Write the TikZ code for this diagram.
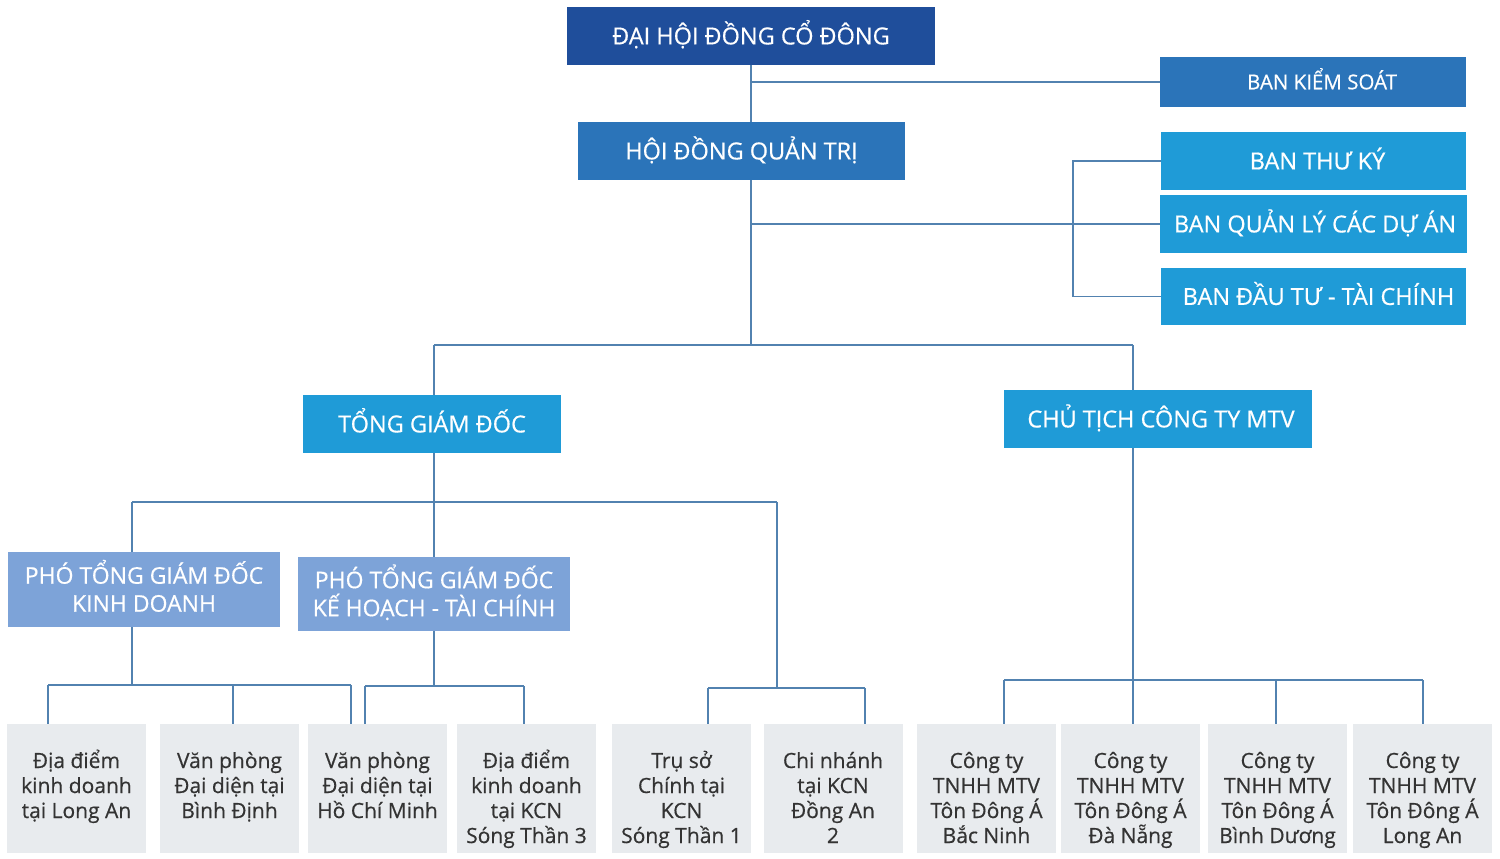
\documentclass[tikz,border=0pt]{standalone}
\usepackage{fontspec}
\setmainfont{Open Sans}[FakeBold=0.5]
\definecolor{cDark}{HTML}{1F4E9B}
\definecolor{cMid}{HTML}{2B74B9}
\definecolor{cLight}{HTML}{1F9BD7}
\definecolor{cPale}{HTML}{7DA3D8}
\definecolor{cGray}{HTML}{E8EBEE}
\definecolor{cText}{HTML}{333333}
\definecolor{cLine}{HTML}{5282B0}
\newcommand{\lstrut}{\rule{0pt}{24pt}}
\begin{document}
\begin{tikzpicture}[x=1pt,y=-1pt,
  box/.style={rectangle, inner sep=0pt, text=white, align=center, font=\fontsize{23.5}{28}\selectfont, text height=16.8pt, text depth=0pt},
  darkbox/.style={box, fill=cDark},
  midbox/.style={box, fill=cMid},
  lightbox/.style={box, fill=cLight},
  palebox/.style={box, fill=cPale, font=\fontsize{23}{28}\selectfont, text height=44.4pt, text depth=0pt},
  leaf/.style={rectangle, fill=cGray, inner sep=0pt, minimum width=139pt, minimum height=129pt},
  leaftext/.style={align=center, text=cText, inner sep=0pt, anchor=north, font=\fontsize{21}{25}\selectfont},
  link/.style={draw=cLine, line width=1.4pt}]
\useasboundingbox (0,0) rectangle (1500,859);

% boxes
\node[darkbox, minimum width=368pt, minimum height=58pt] (dhd) at (751,36) {ĐẠI HỘI ĐỒNG CỔ ĐÔNG};
\node[midbox, minimum width=306pt, minimum height=50pt, font=\fontsize{20.5}{24}\selectfont, text height=14.6pt] (bks) at (1313,82) {\hspace*{18pt}BAN KIỂM SOÁT};
\node[midbox, minimum width=327pt, minimum height=58pt] (hdqt) at (741.5,151) {HỘI ĐỒNG QUẢN TRỊ};
\node[lightbox, minimum width=305pt, minimum height=58pt] (btk) at (1313.5,161) {\hspace*{8pt}BAN THƯ KÝ};
\node[lightbox, minimum width=307pt, minimum height=58pt] (bql) at (1313.5,224) {\hspace*{3pt}BAN QUẢN LÝ CÁC DỰ ÁN};
\node[lightbox, minimum width=305pt, minimum height=57pt] (bdt) at (1313.5,296.5) {\hspace*{10pt}BAN ĐẦU TƯ - TÀI CHÍNH};
\node[lightbox, minimum width=258pt, minimum height=58pt] (tgd) at (432,424) {TỔNG GIÁM ĐỐC};
\node[lightbox, minimum width=308pt, minimum height=58pt] (ct) at (1158,419) {\hspace*{6pt}CHỦ TỊCH CÔNG TY MTV};
\node[palebox, minimum width=272pt, minimum height=75pt] (pkd) at (144,589.5) {PHÓ TỔNG GIÁM ĐỐC\\KINH DOANH};
\node[palebox, minimum width=272pt, minimum height=74pt] (pkh) at (434,594) {PHÓ TỔNG GIÁM ĐỐC\\KẾ HOẠCH - TÀI CHÍNH};

% leaves
\foreach \i/\x in {1/76.5,2/229.5,3/377.5,4/526.5,5/681.5,6/833,7/986.5,8/1130.5,9/1277.5,10/1422.5}
  \node[leaf] (b\i) at (\x,788.5) {};
\node[leaftext] (t1) at ([yshift=-20pt]b1.north) {\lstrut Địa điểm\\kinh doanh\\tại Long An};
\node[leaftext] (t2) at ([yshift=-20pt]b2.north) {\lstrut Văn phòng\\Đại diện tại\\Bình Định};
\node[leaftext] (t3) at ([yshift=-20pt]b3.north) {\lstrut Văn phòng\\Đại diện tại\\Hồ Chí Minh};
\node[leaftext] (t4) at ([yshift=-20pt]b4.north) {\lstrut Địa điểm\\kinh doanh\\tại KCN\\Sóng Thần 3};
\node[leaftext] (t5) at ([yshift=-20pt]b5.north) {\lstrut Trụ sở\\Chính tại\\KCN\\Sóng Thần 1};
\node[leaftext] (t6) at ([yshift=-20pt]b6.north) {\lstrut Chi nhánh\\tại KCN\\Đồng An\\2};
\node[leaftext] (t7) at ([yshift=-20pt]b7.north) {\lstrut Công ty\\TNHH MTV\\Tôn Đông Á\\Bắc Ninh};
\node[leaftext] (t8) at ([yshift=-20pt]b8.north) {\lstrut Công ty\\TNHH MTV\\Tôn Đông Á\\Đà Nẵng};
\node[leaftext] (t9) at ([yshift=-20pt]b9.north) {\lstrut Công ty\\TNHH MTV\\Tôn Đông Á\\Bình Dương};
\node[leaftext] (t10) at ([yshift=-20pt]b10.north) {\lstrut Công ty\\TNHH MTV\\Tôn Đông Á\\Long An};

% junction coordinates
\coordinate (spine) at (751,345);
\coordinate (brk) at (1073,0);
\coordinate (jt) at (434,345);
\coordinate (jc) at (1133,345);
\coordinate (g1) at (132,502);
\coordinate (g2) at (434,502);
\coordinate (g3) at (777,502);
\coordinate (k1) at (132,685);
\coordinate (kl) at (48,685);
\coordinate (km) at (233,685);
\coordinate (kr) at (351,685);
\coordinate (h1) at (434,686);
\coordinate (hl) at (365,686);
\coordinate (hr) at (524,686);
\coordinate (s1) at (777,688);
\coordinate (sl) at (708,688);
\coordinate (sr) at (865,688);
\coordinate (c1) at (1133,680);
\coordinate (cl) at (1004,680);
\coordinate (cm) at (1276,680);
\coordinate (cr) at (1423,680);

% connectors
\draw[link] (dhd.south) -- (dhd.south |- hdqt.north);
\draw[link] (dhd.south |- bks.west) -- (bks.west);
\draw[link] (dhd.south |- hdqt.south) -- (spine);
\draw[link] (btk.west) -- (btk.west -| brk) -- (bdt.west -| brk) -- (bdt.west);
\draw[link] (dhd.south |- bql.west) -- (bql.west);
\draw[link] (jt) -- (jc);
\draw[link] (jt) -- (jt |- tgd.north);
\draw[link] (jc) -- (jc |- ct.north);
% TGD branch
\draw[link] (g2 |- tgd.south) -- (g2);
\draw[link] (g1) -- (g3);
\draw[link] (g1) -- (g1 |- pkd.north);
\draw[link] (g2) -- (g2 |- pkh.north);
\draw[link] (g3) -- (s1);
% PTGD KD
\draw[link] (k1 |- pkd.south) -- (k1);
\draw[link] (kl) -- (kr);
\draw[link] (kl) -- (kl |- b1.north);
\draw[link] (km) -- (km |- b2.north);
\draw[link] (kr) -- (kr |- b3.north);
% PTGD KH
\draw[link] (h1 |- pkh.south) -- (h1);
\draw[link] (hl) -- (hr);
\draw[link] (hl) -- (hl |- b3.north);
\draw[link] (hr) -- (hr |- b4.north);
% head office
\draw[link] (sl) -- (sr);
\draw[link] (sl) -- (sl |- b5.north);
\draw[link] (sr) -- (sr |- b6.north);
% subsidiaries
\draw[link] (c1 |- ct.south) -- (c1 |- b8.north);
\draw[link] (cl) -- (cr);
\draw[link] (cl) -- (cl |- b7.north);
\draw[link] (cm) -- (cm |- b9.north);
\draw[link] (cr) -- (cr |- b10.north);
\end{tikzpicture}
\end{document}
